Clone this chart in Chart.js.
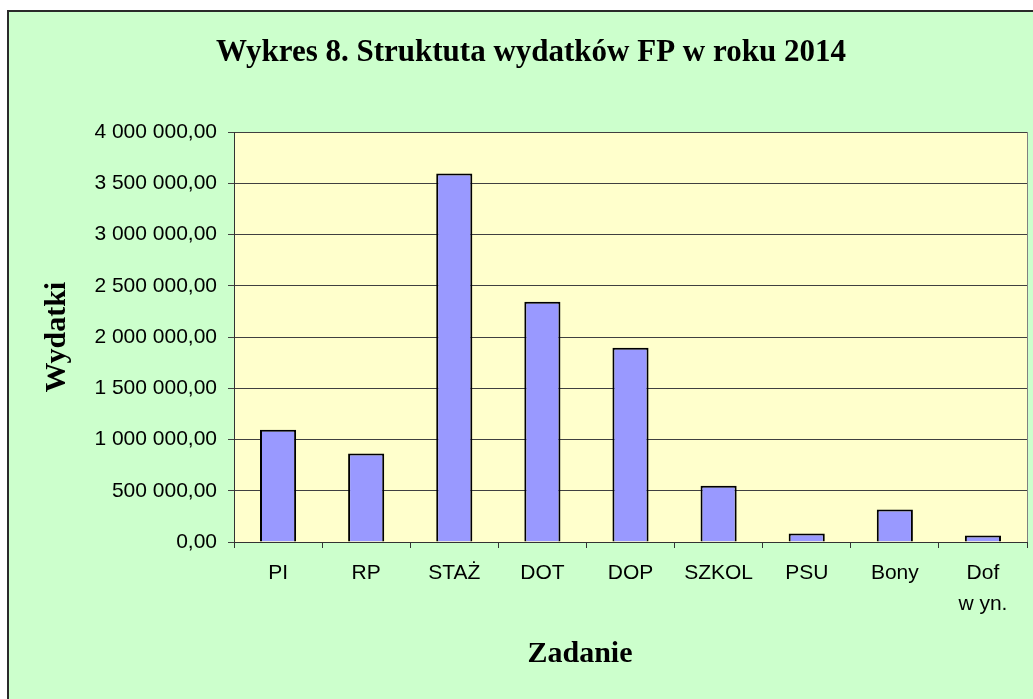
<!DOCTYPE html>
<html>
<head>
<meta charset="utf-8">
<script src="https://cdn.jsdelivr.net/npm/chart.js@4/dist/chart.umd.min.js"></script>
<style>
  html, body { margin: 0; padding: 0; background: #ffffff; }
  #wrap { width: 1033px; height: 699px; position: relative; }
</style>
</head>
<body>
<div id="wrap"><canvas id="c" width="1033" height="699"></canvas></div>
<script>
const categories = ['PI', 'RP', 'STAŻ', 'DOT', 'DOP', 'SZKOL', 'PSU', 'Bony', ['Dof', 'w yn.']];
const expenses = [1095000, 864000, 3596000, 2344000, 1896000, 549000, 84000, 318000, 64000];
const yTickValues = [0, 500000, 1000000, 1500000, 2000000, 2500000, 3000000, 3500000, 4000000];
const yTickLabels = ['0,00', '500 000,00', '1 000 000,00', '1 500 000,00', '2 000 000,00',
                     '2 500 000,00', '3 000 000,00', '3 500 000,00', '4 000 000,00'];
const chartTitle = 'Wykres 8. Struktuta wydatków FP w roku 2014';
const yTitle = 'Wydatki';
const xTitle = 'Zadanie';

const framePlugin = {
  id: 'frame',
  beforeDraw(chart) {
    const ctx = chart.ctx;
    const a = chart.chartArea;
    ctx.save();
    ctx.fillStyle = '#ffffff';
    ctx.fillRect(0, 0, chart.width, chart.height);
    ctx.fillStyle = '#CCFFCC';
    ctx.fillRect(7, 10, chart.width - 7, chart.height - 10);
    ctx.strokeStyle = '#2a2a2a';
    ctx.lineWidth = 2;
    ctx.beginPath();
    ctx.moveTo(8, chart.height + 2);
    ctx.lineTo(8, 11);
    ctx.lineTo(chart.width + 2, 11);
    ctx.stroke();
    ctx.fillStyle = '#FFFFCC';
    ctx.fillRect(a.left, a.top, a.right - a.left, a.bottom - a.top);
    ctx.strokeStyle = '#808080';
    ctx.lineWidth = 1;
    ctx.strokeRect(Math.round(a.left) + 0.5, Math.round(a.top) + 0.5,
                   Math.round(a.right - a.left), Math.round(a.bottom - a.top));
    ctx.restore();
  },
  afterDraw(chart) {
    const ctx = chart.ctx;
    ctx.save();
    ctx.fillStyle = '#000000';
    ctx.font = 'bold 30px "Liberation Serif"';
    ctx.textAlign = 'center';
    ctx.textBaseline = 'alphabetic';
    ctx.fillText(xTitle, 580, 662);
    ctx.restore();
  }
};

new Chart(document.getElementById('c'), {
  type: 'bar',
  data: {
    labels: categories,
    datasets: [{
      data: expenses,
      backgroundColor: '#9999FF',
      borderColor: '#000000',
      borderWidth: 2,
      categoryPercentage: 1.0,
      barPercentage: 0.41
    }]
  },
  options: {
    responsive: false,
    animation: false,
    layout: { padding: { left: 35, right: 6, top: 0, bottom: 0 } },
    plugins: {
      legend: { display: false },
      tooltip: { enabled: false },
      title: {
        display: true,
        text: chartTitle,
        color: '#000000',
        font: { family: '"Liberation Serif"', size: 31, weight: 'bold', lineHeight: 1.2 },
        padding: { top: 34, bottom: 61 }
      }
    },
    scales: {
      x: {
        afterFit(scale) { scale.height = 157; },
        grid: {
          display: true,
          offset: true,
          drawOnChartArea: false,
          drawTicks: true,
          tickLength: 6,
          color: '#333333'
        },
        border: { display: true, color: '#333333', width: 1 },
        ticks: {
          color: '#000000',
          padding: 9,
          maxRotation: 0,
          autoSkip: false,
          font: { family: '"Liberation Sans"', size: 21, lineHeight: 1.5 }
        },
        title: { display: false }
      },
      y: {
        min: 0,
        max: 4000000,
        afterFit(scale) { scale.width = 199; },
        afterBuildTicks(scale) { scale.ticks = yTickValues.map(v => ({ value: v })); },
        grid: {
          display: true,
          drawOnChartArea: true,
          drawTicks: true,
          tickLength: 6,
          color: '#404040'
        },
        border: { display: true, color: '#333333', width: 1 },
        ticks: {
          color: '#000000',
          padding: 11,
          font: { family: '"Liberation Sans"', size: 21, lineHeight: 1.2 },
          callback(value) {
            const i = yTickValues.indexOf(value);
            return i >= 0 ? yTickLabels[i] : '';
          }
        },
        title: {
          display: true,
          text: yTitle,
          color: '#000000',
          font: { family: '"Liberation Serif"', size: 30, weight: 'bold', lineHeight: 1.2 },
          padding: { top: 4, bottom: 0 }
        }
      }
    }
  },
  plugins: [framePlugin]
});
</script>
</body>
</html>
